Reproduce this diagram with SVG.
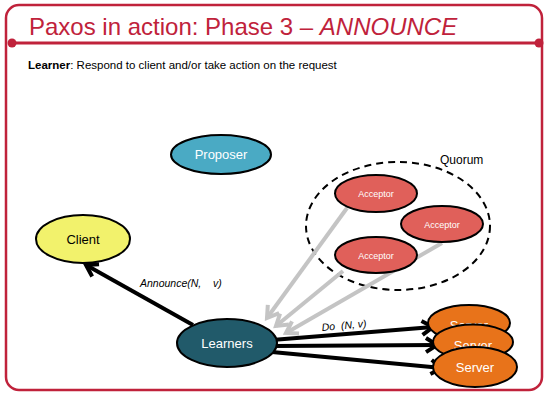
<svg xmlns="http://www.w3.org/2000/svg" width="544" height="394" viewBox="0 0 544 394">
<style>
text{font-family:"Liberation Sans",Arial,sans-serif}
.node{stroke:#000;stroke-width:2}
.w{fill:#fff;text-anchor:middle}
.blk{stroke:#000;stroke-width:4;fill:none}
.gry{stroke:#c4c4c4;stroke-width:4;fill:none}
</style>
<defs>
<marker id="ab" markerUnits="userSpaceOnUse" viewBox="-14 -10 18 20" markerWidth="18" markerHeight="20" refX="0" refY="0" orient="auto">
<path d="M-11,-7 L0,0 L-11,7" fill="none" stroke="#000" stroke-width="4"/>
</marker>
<marker id="ag" markerUnits="userSpaceOnUse" viewBox="-14 -10 18 20" markerWidth="18" markerHeight="20" refX="0" refY="0" orient="auto">
<path d="M-11,-7 L0,0 L-11,7" fill="none" stroke="#c4c4c4" stroke-width="4"/>
</marker>
</defs>
<rect x="6" y="5" width="536" height="385" rx="13" fill="#fff" stroke="#c0223b" stroke-width="2.5"/>
<line x1="12" y1="43" x2="540" y2="43" stroke="#c0223b" stroke-width="3"/>
<circle cx="12" cy="43" r="4.5" fill="#c0223b"/>
<circle cx="539" cy="43" r="4.5" fill="#c0223b"/>
<text x="29" y="35" font-size="24" fill="#c0223b">Paxos in action: Phase 3 – <tspan font-style="italic">ANNOUNCE</tspan></text>
<text x="28" y="69" font-size="11.5" fill="#000"><tspan font-weight="bold">Learner</tspan>: Respond to client and/or take action on the request</text>

<g id="quorum">
<ellipse cx="398" cy="226" rx="92" ry="64" fill="none" stroke="#000" stroke-width="2" stroke-dasharray="7 5"/>
<text x="440" y="164" font-size="12" fill="#000">Quorum</text>
</g>

<g id="connectors">
<line class="gry" x1="347" y1="208" x2="267" y2="318" marker-end="url(#ag)"/>
<line class="gry" x1="343" y1="271" x2="276" y2="326" marker-end="url(#ag)"/>
<line class="gry" x1="442" y1="243" x2="286" y2="333" marker-end="url(#ag)"/>
<line class="blk" x1="193" y1="325" x2="86" y2="265" marker-end="url(#ab)"/>
<line class="blk" x1="272" y1="340" x2="433" y2="327" marker-end="url(#ab)"/>
<line class="blk" x1="274" y1="346" x2="437" y2="345" marker-end="url(#ab)"/>
<line class="blk" x1="272" y1="352" x2="442" y2="368" marker-end="url(#ab)"/>
<text x="140" y="287" font-size="10.5" font-style="italic" fill="#000" xml:space="preserve">Announce(N,    v)</text>
<text x="322" y="331" font-size="10.5" font-style="italic" fill="#000" transform="rotate(-5 322 331)" xml:space="preserve">Do  (N, v)</text>
</g>

<g id="proposer">
<ellipse class="node" cx="221" cy="154.5" rx="50" ry="19.5" fill="#4aaac4"/>
<text class="w" x="221" y="159" font-size="13">Proposer</text>
</g>
<g id="client">
<ellipse class="node" cx="83" cy="239" rx="47" ry="24" fill="#f2f26c"/>
<text x="83" y="244" font-size="13" fill="#000" text-anchor="middle">Client</text>
</g>
<g id="acceptor1">
<ellipse class="node" cx="376" cy="193.5" rx="41" ry="18.5" fill="#e0605a"/>
<text class="w" x="376" y="197" font-size="9">Acceptor</text>
</g>
<g id="acceptor2">
<ellipse class="node" cx="442" cy="224" rx="41" ry="18" fill="#e0605a"/>
<text class="w" x="442" y="227.5" font-size="9">Acceptor</text>
</g>
<g id="acceptor3">
<ellipse class="node" cx="376" cy="255" rx="41" ry="18" fill="#e0605a"/>
<text class="w" x="376" y="258.5" font-size="9">Acceptor</text>
</g>
<g id="learners">
<ellipse class="node" cx="227" cy="343" rx="50" ry="24" fill="#215a6a"/>
<text class="w" x="227" y="348" font-size="13">Learners</text>
</g>
<g id="server1">
<ellipse class="node" cx="469" cy="323" rx="41" ry="18" fill="#e8731a"/>
<text class="w" x="469" y="330" font-size="13">Server</text>
</g>
<g id="server2">
<ellipse class="node" cx="473" cy="342" rx="40" ry="17.5" fill="#e8731a"/>
<text class="w" x="473" y="350" font-size="13">Server</text>
</g>
<g id="server3">
<ellipse class="node" cx="475" cy="367" rx="42" ry="20" fill="#e8731a"/>
<text class="w" x="475" y="372" font-size="13">Server</text>
</g>
</svg>
